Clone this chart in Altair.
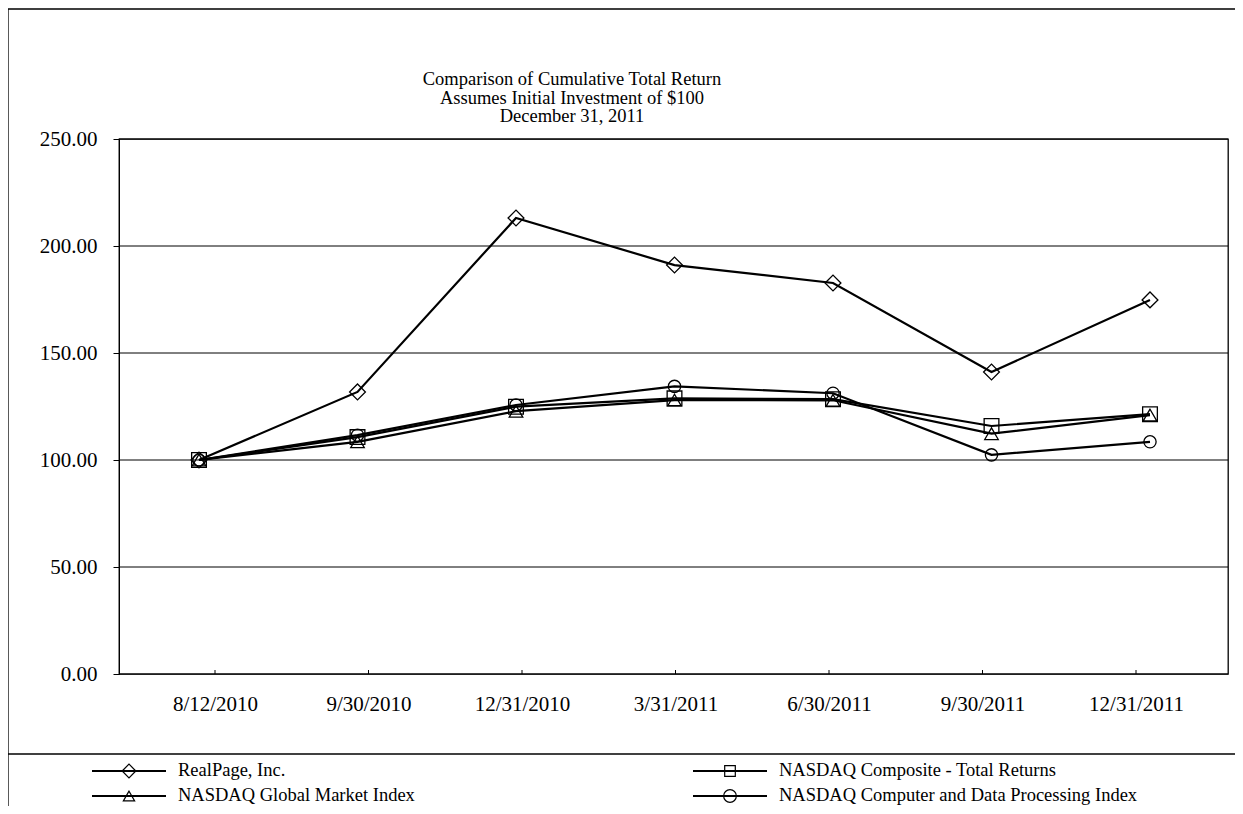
import altair as alt
import pandas as pd

# ---------------- data ----------------
dates = ["8/12/2010", "9/30/2010", "12/31/2010", "3/31/2011", "6/30/2011", "9/30/2011", "12/31/2011"]
realpage = [100.00, 131.8, 213.1, 191.1, 182.7, 141.1, 174.8]
nasdaq_composite = [100.00, 110.7, 124.9, 128.8, 128.4, 115.9, 121.4]
nasdaq_global = [100.00, 108.5, 122.8, 128.0, 127.9, 112.3, 121.0]
nasdaq_computer = [100.00, 111.6, 125.7, 134.4, 131.2, 102.4, 108.5]

series_names = ["RealPage, Inc.", "NASDAQ Composite - Total Returns",
                "NASDAQ Global Market Index", "NASDAQ Computer and Data Processing Index"]
series_values = [realpage, nasdaq_composite, nasdaq_global, nasdaq_computer]
shapes = ["diamond", "square", "triangle-up", "circle"]
sizes = [250, 150, 170, 215]
y_ticks = [0, 50, 100, 150, 200, 250]
title_lines = ["Comparison of Cumulative Total Return",
               "Assumes Initial Investment of $100",
               "December 31, 2011"]

rows = []
for name, vals in zip(series_names, series_values):
    for d, v in zip(dates, vals):
        rows.append({"date": d, "value": v, "series": name})
df = pd.DataFrame(rows)

FONT = "Liberation Serif"
W, H = 1109, 535
one = pd.DataFrame({"k": [0]})

yscale = alt.Scale(domain=[0, 250], nice=False)
yaxis = alt.Axis(values=y_ticks, format=".2f", title=None, grid=False,
                 tickColor="black", tickSize=6, tickWidth=1,
                 domainColor="black", domainWidth=1,
                 labelFont=FONT, labelFontSize=21, labelColor="black",
                 labelPadding=16)

# ---------------- gridlines ----------------
grid = alt.Chart(pd.DataFrame({"value": y_ticks})).mark_rule(color="black", strokeWidth=1).encode(
    y=alt.Y("value:Q", scale=yscale, axis=yaxis),
    x=alt.value(0), x2=alt.value(W),
)

# ---------------- main plot ----------------
xs = alt.X("date:N", sort=dates,
           scale=alt.Scale(type="point", range=[80, 1031], padding=0), axis=None)
ys = alt.Y("value:Q", scale=yscale, axis=yaxis)

base = alt.Chart(df).encode(x=xs, y=ys, detail="series:N")
lines = base.mark_line(color="black", strokeWidth=2.2)
points = base.mark_point(filled=False, color="black", strokeWidth=1.3, opacity=1).encode(
    shape=alt.Shape("series:N", scale=alt.Scale(domain=series_names, range=shapes), legend=None),
    size=alt.Size("series:N", scale=alt.Scale(domain=series_names, range=sizes), legend=None),
)

# x axis (labels and inward ticks)
xaxis = alt.Chart(pd.DataFrame({"date": dates})).mark_rule(color="black", strokeWidth=1).encode(
    x=alt.X("date:N", sort=dates,
            scale=alt.Scale(type="point", range=[96, 1017], padding=0),
            axis=alt.Axis(title=None, ticks=False, domain=False, labelAngle=0,
                          labelFont=FONT, labelFontSize=21, labelColor="black",
                          labelPadding=19)),
    y=alt.value(H), y2=alt.value(H - 4),
)

# ---------------- decorations ----------------
border = alt.Chart(one).mark_rect(fill="transparent", stroke="black", strokeWidth=1.3).encode(
    x=alt.value(-111), x2=alt.value(1400), y=alt.value(-130), y2=alt.value(1000))
sep = alt.Chart(one).mark_rule(color="black", strokeWidth=1.3).encode(
    x=alt.value(-111), x2=alt.value(1400), y=alt.value(615))

layers = [border, sep]
for i, t in enumerate(title_lines):
    layers.append(alt.Chart(one).mark_text(text=t, font=FONT, fontSize=18.5, color="black",
                                           align="center", baseline="middle").encode(
        x=alt.value(453), y=alt.value(-60 + 18.5 * i)))

# legend
leg_pos = [(-27, 632), (574, 632), (-27, 657), (574, 657)]
for name, shp, sz, (lx, ly) in zip(series_names, shapes, sizes, leg_pos):
    layers.append(alt.Chart(one).mark_rule(color="black", strokeWidth=2.2).encode(
        x=alt.value(lx), x2=alt.value(lx + 74), y=alt.value(ly)))
    layers.append(alt.Chart(one).mark_point(shape=shp, size=sz * 0.75, filled=False, color="black",
                                            strokeWidth=1.2, opacity=1).encode(
        x=alt.value(lx + 37), y=alt.value(ly)))
    layers.append(alt.Chart(one).mark_text(text=name, font=FONT, fontSize=18.5, color="black",
                                           align="left", baseline="middle").encode(
        x=alt.value(lx + 86), y=alt.value(ly - 1)))

chart = alt.layer(grid, lines, points, xaxis, *layers).resolve_scale(x="independent").properties(
    width=W, height=H,
    autosize=alt.AutoSizeParams(type="none"),
    padding={"left": 111, "top": 131, "right": 7, "bottom": 132},
).configure_view(stroke="black", strokeWidth=1.3)

chart.save("out.html", embed_options={"renderer": "svg", "actions": False})
